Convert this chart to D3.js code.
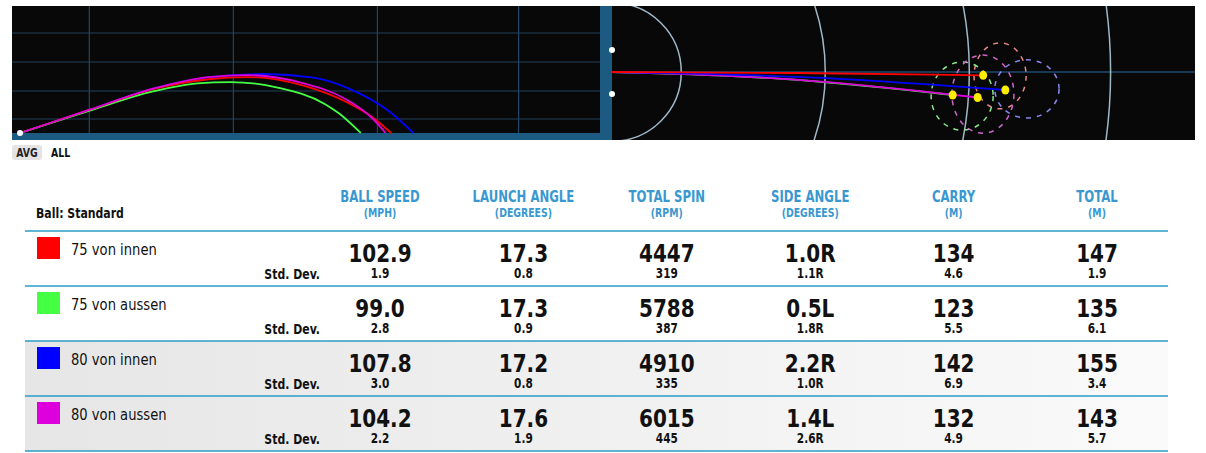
<!DOCTYPE html>
<html><head><meta charset="utf-8">
<script src="https://cdn.jsdelivr.net/npm/d3@7"></script>
<style>body{margin:0;background:#fff}svg{display:block}</style>
</head><body><svg id="c" width="1206" height="453"></svg>
<script>
// ---- data ----
const seriesNames = ["75 von innen","75 von aussen","80 von innen","80 von aussen"];
const seriesColors = ["#ff0000","#44ff44","#0000ff","#dd00dd"];
const dashColors = ["#e88888","#88e888","#8888ee","#cc66cc"];
const trajRed = [[0,0],[25.5,8.5],[48,15.8],[68,19.4],[82,20.2],[102,17.2],[118,11.1],[127.5,5.5],[134,0]];
const trajGreen = [[0,0],[25.5,8.2],[48,15],[64,17.9],[76,18.4],[93,16.4],[110,10.5],[115,7.2],[123,0]];
const trajBlue = [[0,0],[25.5,8.5],[48,16],[68,20.1],[88,21.3],[106,20],[120,15.5],[133,8],[142,0]];
const trajMagenta = [[0,0],[25.5,8.5],[48,16],[68,20.2],[82,20.9],[101,18.3],[118,12],[127,5.5],[132,0]];
const landingDist = [134,123,142,132];
const landingSide = [1.2,8.3,6.5,9.2];
const ellCx = [140.1,126.4,149.8,133.9], ellCy = [1.4,8.7,6.1,8.0], ellRx = [9.4,11.2,11.6,11.2], ellRy = [11.9,12.3,10.5,14.1];
const distGrid = [25,77,129,180];
const columns = ["BALL SPEED","LAUNCH ANGLE","TOTAL SPIN","SIDE ANGLE","CARRY","TOTAL"];
const units = ["(MPH)","(DEGREES)","(RPM)","(DEGREES)","(M)","(M)"];
const avgValues = [["102.9","17.3","4447","1.0R","134","147"],["99.0","17.3","5788","0.5L","123","135"],["107.8","17.2","4910","2.2R","142","155"],["104.2","17.6","6015","1.4L","132","143"]];
const stdValues = [["1.9","0.8","319","1.1R","4.6","1.9"],["2.8","0.9","387","1.8R","5.5","6.1"],["3.0","0.8","335","1.0R","6.9","3.4"],["2.2","1.9","445","2.6R","4.9","5.7"]];
const trajs = [trajRed,trajGreen,trajBlue,trajMagenta];

const svg = d3.select("#c");
const F = "'DejaVu Sans',sans-serif";
const defs = svg.append("defs");
const g1 = defs.append("linearGradient").attr("id","rowg");
g1.append("stop").attr("offset","0").attr("stop-color","#e6e6e6");
g1.append("stop").attr("offset","1").attr("stop-color","#fafafa");

function T(px,py,str,size,opts={}){
  return svg.append("text").attr("transform",`translate(${px},${py}) scale(${opts.sx||0.78},1)`)
    .attr("text-anchor",opts.anchor||"start").attr("font-family",F).attr("font-weight",opts.w||"bold")
    .attr("font-size",size).attr("fill",opts.fill||"#111").text(str);
}

// ---- left side view ----
const k = 2.77;
const x = d3.scaleLinear().domain([0,1]).range([20,20+k]);
const y = d3.scaleLinear().domain([0,1]).range([133,133-k]);
svg.append("rect").attr("x",12).attr("y",6).attr("width",591).attr("height",134).attr("fill","#080808");
svg.append("rect").attr("x",12).attr("y",133).attr("width",591).attr("height",7).attr("fill","#1c5a82");
svg.append("rect").attr("x",600).attr("y",6).attr("width",12).attr("height",134).attr("fill","#1c5a82");
const gl = svg.append("g");
gl.selectAll(".v").data(distGrid).join("line").attr("x1",d=>x(d)).attr("x2",d=>x(d)).attr("y1",6).attr("y2",133).attr("stroke","#23527a").attr("stroke-width",1);
gl.selectAll(".h").data([33,62,91,119]).join("line").attr("x1",12).attr("x2",600).attr("y1",d=>d).attr("y2",d=>d).attr("stroke","#23405a");
const line = d3.line().x(d=>x(d[0])).y(d=>y(d[1])).curve(d3.curveMonotoneX);
[2,1,0,3].forEach(i=>svg.append("path").attr("d",line(trajs[i])).attr("fill","none").attr("stroke",seriesColors[i]).attr("stroke-width",1.8));
svg.append("circle").attr("cx",x(0)).attr("cy",y(0)).attr("r",3).attr("fill","#fff");

// ---- right top view ----
const ox = 612, oy = 72;
const rx = d3.scaleLinear().domain([0,1]).range([ox,ox+k]);
const ry = d3.scaleLinear().domain([0,1]).range([oy,oy+k]);
svg.append("rect").attr("x",612).attr("y",6).attr("width",583).attr("height",134).attr("fill","#080808");
svg.append("clipPath").attr("id","cp").append("rect").attr("x",612).attr("y",6).attr("width",583).attr("height",134);
const gr = svg.append("g").attr("clip-path","url(#cp)");
gr.append("line").attr("x1",612).attr("x2",1195).attr("y1",oy).attr("y2",oy).attr("stroke","#1c4a70").attr("stroke-width",1.5);
gr.selectAll("circle.r").data(distGrid).join("circle").attr("cx",ox).attr("cy",oy).attr("r",d=>rx(d)-ox).attr("fill","none").attr("stroke","#9fb8c8").attr("stroke-width",1.5);
seriesNames.forEach((n,i)=>{
  gr.append("ellipse").attr("cx",rx(ellCx[i])).attr("cy",ry(ellCy[i])).attr("rx",rx(ellRx[i])-ox).attr("ry",ry(ellRy[i])-oy)
    .attr("fill","none").attr("stroke",dashColors[i]).attr("stroke-width",1.5).attr("stroke-dasharray","5,6");
});
const tline = d3.line().x(d=>rx(d[0])).y(d=>ry(d[1])).curve(d3.curveBasis);
[1,3,2,0].forEach(i=>{
  const L = landingDist[i], S = landingSide[i];
  gr.append("path").attr("d",tline([[0,0],[L*0.5,S*0.2],[L,S]])).attr("fill","none").attr("stroke",seriesColors[i]).attr("stroke-width",1.8);
});
seriesNames.forEach((n,i)=>gr.append("ellipse").attr("cx",rx(landingDist[i])).attr("cy",ry(landingSide[i])).attr("rx",4).attr("ry",4.5).attr("fill","#ffee00"));
[50,94].forEach(v=>svg.append("circle").attr("cx",612).attr("cy",v).attr("r",3).attr("fill","#fff"));

// AVG / ALL
svg.append("rect").attr("x",12).attr("y",145).attr("width",30).attr("height",15).attr("rx",3).attr("fill","#e4e4e4");
T(27,157,"AVG",12,{anchor:"middle",fill:"#222"});
T(51,157,"ALL",12);

// ---- table ----
const colX = d3.scalePoint().domain(columns).range([380,1097]);
const rowY = d3.scaleLinear().domain([0,1]).range([231,286]);
svg.append("rect").attr("x",25).attr("y",rowY(2)).attr("width",1143).attr("height",rowY(4)-rowY(2)).attr("fill","url(#rowg)");
T(36,218,"Ball: Standard",14);
columns.forEach((c,j)=>{
  T(colX(c),202,c,15,{anchor:"middle",fill:"#3a98d0"});
  T(colX(c),217,units[j],12,{anchor:"middle",fill:"#3a98d0"});
});
[0,1,2,3,4].forEach(r=>svg.append("line").attr("x1",25).attr("x2",1168).attr("y1",rowY(r)).attr("y2",rowY(r)).attr("stroke","#2a9cc8").attr("stroke-width",1.3));
seriesNames.forEach((n,i)=>{
  const y0 = rowY(i);
  svg.append("rect").attr("x",37).attr("y",y0+6).attr("width",23).attr("height",22).attr("fill",seriesColors[i]);
  T(71,y0+24,n,16,{w:"normal",sx:0.82});
  T(320,y0+48,"Std. Dev.",14,{anchor:"end"});
  columns.forEach((c,j)=>{
    T(colX(c),y0+31,avgValues[i][j],25,{anchor:"middle",sx:0.8});
    T(colX(c),y0+47,stdValues[i][j],13.5,{anchor:"middle"});
  });
});
</script></body></html>
